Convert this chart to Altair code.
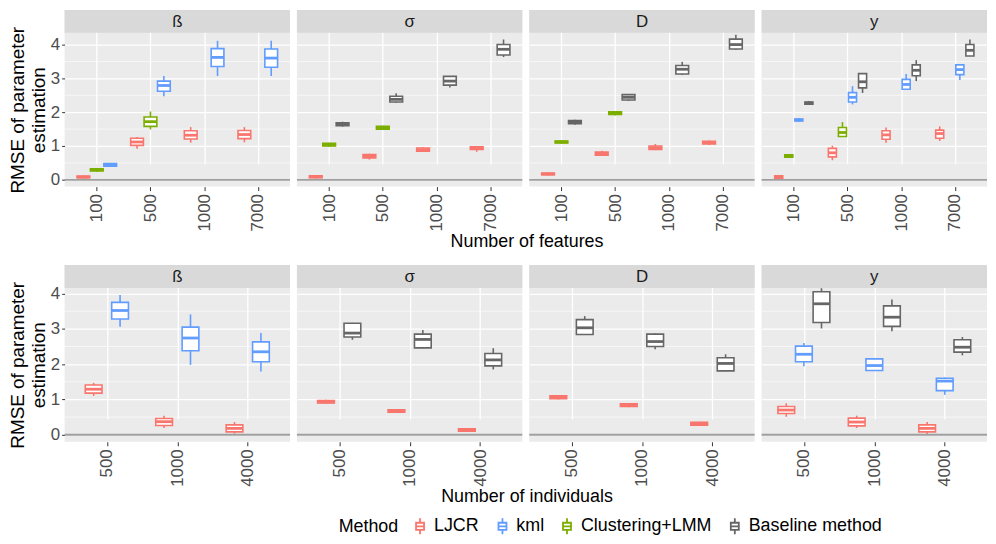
import altair as alt
import pandas as pd

FEATURES = ["100", "500", "1000", "7000"]
INDIVIDUALS = ["500", "1000", "4000"]
PARAMS = ["ß", "σ", "D", "y"]
METHODS = ["LJCR", "kml", "Clustering+LMM", "Baseline method"]
DODGE_ORDER = ["LJCR", "Clustering+LMM", "kml", "Baseline method"]
COLORS = ["#F8766D", "#619CFF", "#7CAE00", "#666666"]
MINOR_GRID = [0.5, 1.5, 2.5, 3.5]

# (lower whisker, Q1, median, Q3, upper whisker) per x level, None = no box
feat_beta = {
    "LJCR": [(0.04, 0.06, 0.08, 0.11, 0.13), (0.92, 1.02, 1.12, 1.23, 1.27),
             (1.10, 1.21, 1.32, 1.45, 1.56), (1.11, 1.22, 1.34, 1.46, 1.56)],
    "Clustering+LMM": [(0.24, 0.26, 0.30, 0.33, 0.35), (1.49, 1.58, 1.72, 1.86, 2.02), None, None],
    "kml": [(0.38, 0.40, 0.44, 0.48, 0.50), (2.47, 2.62, 2.79, 2.92, 3.07),
            (3.07, 3.35, 3.62, 3.88, 4.11), (3.07, 3.33, 3.60, 3.87, 4.11)],
}
feat_sigma = {
    "LJCR": [(0.04, 0.06, 0.09, 0.12, 0.14), (0.60, 0.65, 0.70, 0.75, 0.77),
             (0.83, 0.85, 0.89, 0.94, 0.97), (0.83, 0.90, 0.94, 0.98, 1.00)],
    "Clustering+LMM": [(0.98, 1.00, 1.04, 1.08, 1.10), (1.48, 1.50, 1.54, 1.58, 1.60), None, None],
    "Baseline method": [(1.57, 1.60, 1.64, 1.69, 1.72), (2.28, 2.30, 2.38, 2.47, 2.56),
                        (2.73, 2.80, 2.92, 3.06, 3.07), (3.63, 3.69, 3.86, 4.00, 4.15)],
}
feat_d = {
    "LJCR": [(0.13, 0.15, 0.17, 0.20, 0.22), (0.71, 0.73, 0.77, 0.82, 0.86),
             (0.88, 0.90, 0.95, 1.00, 1.06), (1.03, 1.06, 1.10, 1.14, 1.16)],
    "Clustering+LMM": [(1.07, 1.09, 1.12, 1.15, 1.17), (1.90, 1.93, 1.97, 2.01, 2.03), None, None],
    "Baseline method": [(1.63, 1.66, 1.70, 1.75, 1.78), (2.33, 2.36, 2.44, 2.52, 2.54),
                        (3.10, 3.13, 3.27, 3.38, 3.49), (3.85, 3.87, 4.00, 4.16, 4.29)],
}
feat_y = {
    "LJCR": [(0.03, 0.05, 0.08, 0.12, 0.14), (0.58, 0.68, 0.80, 0.93, 1.01),
             (1.10, 1.20, 1.33, 1.45, 1.55), (1.15, 1.23, 1.37, 1.47, 1.58)],
    "Clustering+LMM": [(0.65, 0.67, 0.71, 0.74, 0.76), (1.27, 1.28, 1.40, 1.55, 1.71), None, None],
    "kml": [(1.72, 1.74, 1.77, 1.80, 1.82), (2.23, 2.30, 2.44, 2.58, 2.77),
            (2.67, 2.68, 2.82, 2.97, 3.13), (2.95, 3.11, 3.26, 3.40, 3.42)],
    "Baseline method": [(2.22, 2.24, 2.27, 2.30, 2.33), (2.57, 2.72, 2.90, 3.14, 3.16),
                        (2.92, 3.08, 3.24, 3.40, 3.54), (3.66, 3.66, 3.83, 4.00, 4.15)],
}
ind_beta = {
    "LJCR": [(1.10, 1.18, 1.29, 1.41, 1.47), (0.19, 0.26, 0.37, 0.46, 0.54), (0.03, 0.08, 0.18, 0.28, 0.36)],
    "kml": [(3.06, 3.28, 3.52, 3.75, 3.96), (1.98, 2.38, 2.74, 3.05, 3.41), (1.79, 2.07, 2.35, 2.63, 2.88)],
}
ind_sigma = {
    "LJCR": [(0.88, 0.90, 0.93, 0.97, 0.99), (0.62, 0.64, 0.67, 0.71, 0.73), (0.08, 0.10, 0.13, 0.17, 0.19)],
    "Baseline method": [(2.69, 2.77, 2.88, 3.16, 3.17), (2.45, 2.46, 2.70, 2.85, 2.97), (1.85, 1.95, 2.12, 2.30, 2.45)],
}
ind_d = {
    "LJCR": [(1.00, 1.02, 1.06, 1.10, 1.12), (0.78, 0.80, 0.84, 0.88, 0.90), (0.25, 0.27, 0.31, 0.35, 0.37)],
    "Baseline method": [(2.83, 2.84, 3.03, 3.26, 3.36), (2.42, 2.50, 2.64, 2.85, 2.87), (1.80, 1.81, 2.02, 2.18, 2.28)],
}
ind_y = {
    "LJCR": [(0.51, 0.60, 0.70, 0.80, 0.89), (0.19, 0.25, 0.36, 0.47, 0.54), (0.02, 0.08, 0.18, 0.28, 0.36)],
    "kml": [(1.94, 2.07, 2.28, 2.51, 2.60), (1.81, 1.82, 1.96, 2.15, 2.17), (1.13, 1.25, 1.52, 1.60, 1.62)],
    "Baseline method": [(3.01, 3.18, 3.71, 4.05, 4.15), (2.93, 3.07, 3.33, 3.65, 3.83), (2.25, 2.34, 2.48, 2.69, 2.77)],
}

PANEL_W = 227
STRIP_H = 23
PANEL_H = 155
DODGE_W = 0.75  # share of a category slot taken by the dodged boxes
FONT = "Liberation Sans"


def to_frame(stats, levels):
    # dodge the boxes like ggplot: each method present in the panel gets a slot
    present = [m for m in DODGE_ORDER if m in stats]
    n = len(present)
    step = DODGE_W / n
    half = min(step, 0.25) * (0.95 if n < 4 else 0.8) / 2
    rows = []
    for method in present:
        k = present.index(method)
        for i, box in enumerate(stats[method]):
            if box is None:
                continue
            lo, q1, med, q3, hi = box
            pos = i + (k - (n - 1) / 2) * step
            rows.append(dict(method=method, pos=pos, left=pos - half, right=pos + half,
                             lo=lo, q1=q1, med=med, q3=q3, hi=hi))
    return pd.DataFrame(rows)


def panel(stats, levels, param, ymax, first):
    df = to_frame(stats, levels)
    height = STRIP_H + PANEL_H
    yscale = alt.Scale(domain=[-0.2, ymax], range=[height, STRIP_H], nice=False, zero=False)
    if first:
        yaxis = alt.Axis(values=[0, 1, 2, 3, 4], title=["RMSE of parameter", "estimation"],
                         titleFontSize=19, titleFontWeight="normal", titleColor="black",
                         titlePadding=2, labelFontSize=17, labelColor="#4D4D4D",
                         tickColor="#333333", tickSize=3, labelPadding=2, domain=False,
                         grid=True, gridColor="white", gridWidth=1.3)
    else:
        yaxis = alt.Axis(values=[0, 1, 2, 3, 4], title=None, labels=False, ticks=False,
                         domain=False, grid=True, gridColor="white", gridWidth=1.3)
    names = "[" + ",".join("'%s'" % v for v in levels) + "]"
    xaxis = alt.Axis(title=None, values=list(range(len(levels))), labelExpr=names + "[datum.value]",
                     labelAngle=270, labelFontSize=17, labelColor="#4D4D4D",
                     tickColor="#333333", tickSize=4, labelPadding=3, domain=False,
                     grid=True, gridColor="white", gridWidth=1.3)
    xscale = alt.Scale(domain=[-0.6, len(levels) - 0.4], nice=False, zero=False)
    stroke = alt.Stroke(
        "method:N",
        scale=alt.Scale(domain=METHODS, range=COLORS),
        legend=alt.Legend(
            title="Method", orient="none", legendX=276, legendY=511, direction="horizontal",
            titleOrient="left", titleFontSize=18, titleFontWeight="normal", titleColor="black",
            labelFontSize=18, labelColor="black", columnPadding=14, labelOffset=5,
            titlePadding=12,
            symbolType="M-0.5,-0.45L0.5,-0.45L0.5,0.45L-0.5,0.45Z M-0.5,0L0.5,0 M0,-0.45L0,-1 M0,0.45L0,1",
            symbolFillColor="white", symbolStrokeWidth=1.8, symbolSize=260,
        ),
    )

    minor = alt.Chart(pd.DataFrame({"v": MINOR_GRID})).mark_rule(
        color="white", strokeWidth=0.6
    ).encode(y=alt.Y("v:Q", scale=yscale, axis=yaxis))
    zero = alt.Chart(pd.DataFrame({"v": [0.0]})).mark_rule(
        color="#9E9E9E", strokeWidth=1.8
    ).encode(y=alt.Y("v:Q", scale=yscale, axis=yaxis))

    base = alt.Chart(df).encode(stroke=stroke)
    whisker = base.mark_rule(strokeWidth=1.6).encode(
        x=alt.X("pos:Q", scale=xscale, axis=xaxis),
        y=alt.Y("lo:Q", scale=yscale, axis=yaxis), y2="hi:Q"
    )
    box = base.mark_rect(fill="white", strokeWidth=1.6).encode(
        x=alt.X("left:Q", scale=xscale, axis=xaxis), x2="right:Q",
        y=alt.Y("q1:Q", scale=yscale, axis=yaxis), y2="q3:Q"
    )
    median = base.mark_rule(strokeWidth=2.8).encode(
        x=alt.X("left:Q", scale=xscale, axis=xaxis), x2="right:Q",
        y=alt.Y("med:Q", scale=yscale, axis=yaxis)
    )

    strip_df = pd.DataFrame({"p": [param]})
    strip = alt.Chart(strip_df).mark_rect(color="#D9D9D9").encode(
        x=alt.value(0), x2=alt.value("width"), y=alt.value(0), y2=alt.value(STRIP_H)
    )
    label = alt.Chart(strip_df).mark_text(fontSize=17, color="#1A1A1A", baseline="middle").encode(
        text="p:N", x=alt.value(PANEL_W / 2), y=alt.value(STRIP_H / 2 + 1)
    )
    return alt.layer(minor, zero, whisker, box, median, strip, label).properties(
        width=PANEL_W, height=height
    )


def row(panels_stats, levels, ymax, title):
    charts = [panel(s, levels, p, ymax, i == 0) for i, (s, p) in enumerate(zip(panels_stats, PARAMS))]
    return alt.hconcat(*charts, spacing=5).properties(
        title=alt.TitleParams(title, orient="bottom", anchor="middle", dx=29, fontSize=18,
                              fontWeight="normal", color="black", offset=2)
    )


top = row([feat_beta, feat_sigma, feat_d, feat_y], FEATURES, 4.35, "Number of features")
bottom = row([ind_beta, ind_sigma, ind_d, ind_y], INDIVIDUALS, 4.16, "Number of individuals")

chart = (
    alt.vconcat(top, bottom, spacing=14)
    .properties(padding=0)
    .configure(font=FONT)
    .configure_view(fill="#EBEBEB", stroke=None)
)

chart.save("out.html", embed_options={"renderer": "svg", "actions": False})
